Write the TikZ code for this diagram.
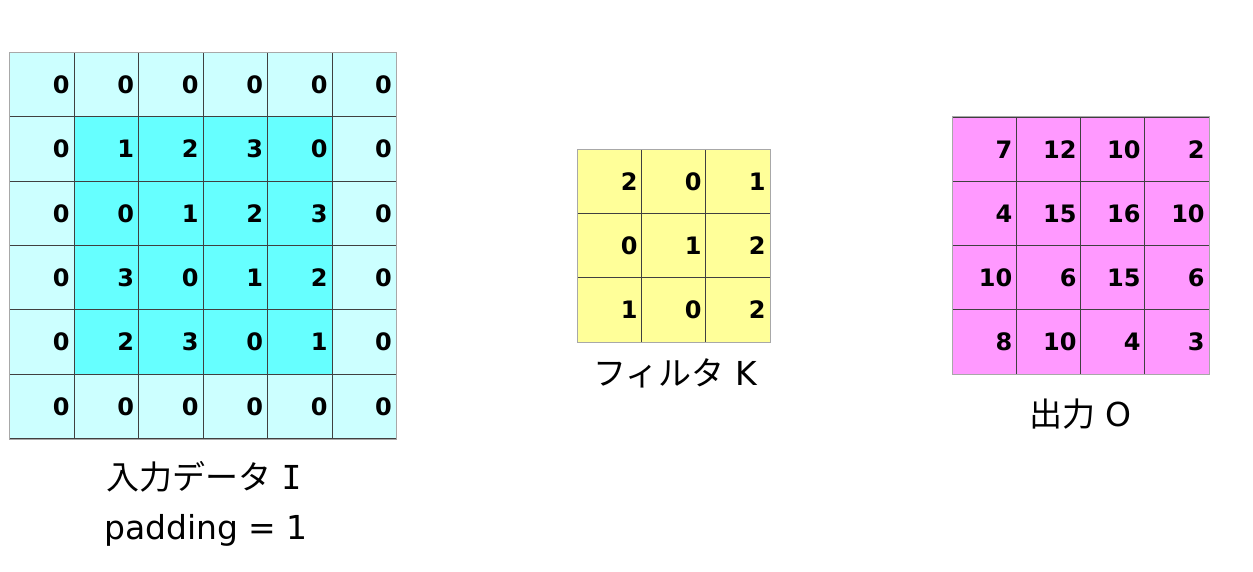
\documentclass[tikz,border=0pt]{standalone}
\usepackage{fontspec}
\newfontfamily\jp{Noto Sans CJK JP}
\newfontfamily\djs{DejaVu Sans}
\newfontfamily\djm{DejaVu Sans Mono}
\definecolor{padc}{HTML}{CCFFFF}
\definecolor{inc}{HTML}{66FFFF}
\definecolor{filc}{HTML}{FFFF99}
\definecolor{outc}{HTML}{FF99FF}
\definecolor{gridline}{HTML}{404040}
\definecolor{edgeline}{HTML}{A8A8A8}
\tikzset{
  cellbox/.style={draw=gridline, line width=0.9pt, minimum width=64.4pt, minimum height=64.4pt,
    inner xsep=4.5pt, inner ysep=0pt, text width=55.4pt, align=right, anchor=north west,
    font=\djs\bfseries\fontsize{24}{24}\selectfont},
  border/.style={draw=edgeline, line width=0.9pt},
  caption/.style={font=\djs\fontsize{33}{40}\selectfont, inner sep=0pt, anchor=base west}
}
\begin{document}
\begin{tikzpicture}[x=1pt,y=-1pt]
\useasboundingbox (0,0) rectangle (1253,571);
% input data I with padding
\foreach \r/\row in {1/{0,0,0,0,0,0},2/{0,1,2,3,0,0},3/{0,0,1,2,3,0},4/{0,3,0,1,2,0},5/{0,2,3,0,1,0},6/{0,0,0,0,0,0}} {
  \foreach \v [count=\c] in \row {
    \pgfmathsetmacro{\inner}{(\r>1 && \r<6 && \c>1 && \c<6) ? 1 : 0}
    \ifdim\inner pt>0.5pt
      \node[cellbox, fill=inc] (I-\r-\c) at ({9.3+(\c-1)*64.45},{52+(\r-1)*64.35}) {\v};
    \else
      \node[cellbox, fill=padc] (I-\r-\c) at ({9.3+(\c-1)*64.45},{52+(\r-1)*64.35}) {\v};
    \fi
  }
}
\draw[border] (I-1-1.north west) rectangle (I-6-6.south east);
% filter K
\foreach \r/\row in {1/{2,0,1},2/{0,1,2},3/{1,0,2}} {
  \foreach \v [count=\c] in \row {
    \node[cellbox, fill=filc] (K-\r-\c) at ({577.3+(\c-1)*64},{149.3+(\r-1)*64}) {\v};
  }
}
\draw[border] (K-1-1.north west) rectangle (K-3-3.south east);
% output O
\foreach \r/\row in {1/{7,12,10,2},2/{4,15,16,10},3/{10,6,15,6},4/{8,10,4,3}} {
  \foreach \v [count=\c] in \row {
    \node[cellbox, fill=outc] (O-\r-\c) at ({952+(\c-1)*64.1},{116.7+(\r-1)*64.15}) {\v};
  }
}
\draw[border] (O-1-1.north west) rectangle (O-4-4.south east);
% captions
\node[caption] (capI) at (106,489) {{\jp 入力データ} {\djm I}};
\node[caption] (capP) at (104,539) {padding = 1};
\node[caption] (capK) at (593,385) {{\jp フィルタ} K};
\node[caption] (capO) at (1029,426) {{\jp 出力} O};
\end{tikzpicture}
\end{document}
